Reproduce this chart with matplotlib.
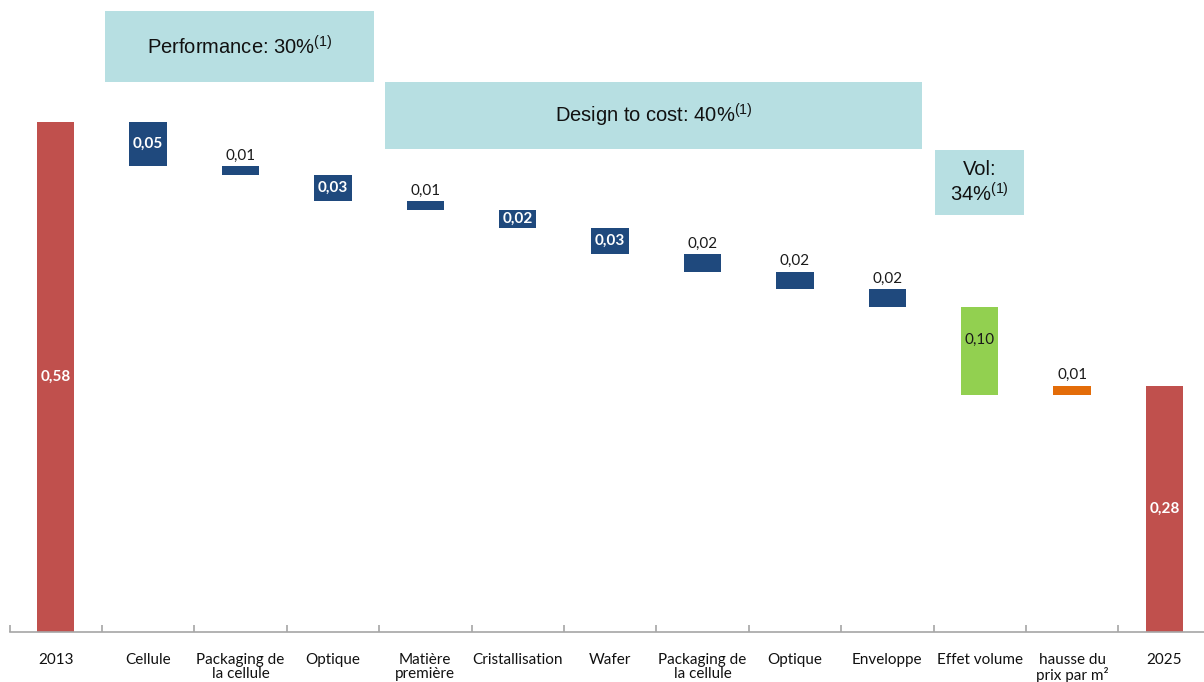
import matplotlib
matplotlib.use("Agg")
import matplotlib.pyplot as plt
from matplotlib.patches import Rectangle

categories = ["2013", "Cellule", "Packaging de\nla cellule", "Optique", "Matière\npremière",
              "Cristallisation", "Wafer", "Packaging de\nla cellule", "Optique", "Enveloppe",
              "Effet volume", "hausse du\nprix par m²", "2025"]
start_value = 0.58
end_value = 0.28
# signed changes between the two totals (negative = cost reduction)
changes = [-0.05, -0.01, -0.03, -0.01, -0.02, -0.03, -0.02, -0.02, -0.02, -0.10, 0.01]
kinds = ["total"] + ["cut"] * 9 + ["volume", "rise"] + ["total"]
label_inside = [True, True, False, True, False, True, True, False, False, False, True, False, True]

groups = ["Performance: 30%$^{\\mathrm{(1)}}$", "Design to cost: 40%$^{\\mathrm{(1)}}$",
          "Vol:\n34%$^{\\mathrm{(1)}}$"]

colors = {"total": "#C0504D", "cut": "#1F497D", "volume": "#92D050", "rise": "#E36C09"}
teal = "#B7DFE2"

plt.rcParams["mathtext.fontset"] = "custom"
plt.rcParams["mathtext.rm"] = "Liberation Sans"

W, H = 1204, 682
fig = plt.figure(figsize=(W / 100, H / 100), dpi=100)
step = 92.4
ax_left = 9.5
ymax = 0.70
px_per_unit = 879
base_px = 632
ax = fig.add_axes([ax_left / W, (H - base_px) / H, 13 * step / W, ymax * px_per_unit / H])

bottoms, heights = [], []
level = start_value
bottoms.append(0); heights.append(start_value)
for c in changes:
    new = level + c
    bottoms.append(min(level, new)); heights.append(abs(c))
    level = new
bottoms.append(0); heights.append(end_value)
values = [start_value] + [abs(c) for c in changes] + [end_value]

x = list(range(len(categories)))
ax.bar(x, heights, bottom=bottoms, width=0.405,
       color=[colors[k] for k in kinds], linewidth=0)

for i, (b, h, v) in enumerate(zip(bottoms, heights, values)):
    txt = f"{v:.2f}".replace(".", ",")
    if label_inside[i]:
        if kinds[i] == "volume":
            ax.text(i, b + h * 0.62, txt, ha="center", va="center", fontsize=11,
                    family="Lato", color="#1a1a1a")
        else:
            ax.text(i, b + h / 2, txt, ha="center", va="center", fontsize=11,
                    family="Lato", weight="bold", color="white")
    else:
        ax.text(i, b + h + 0.004, txt, ha="center", va="bottom", fontsize=11,
                family="Lato", color="#1a1a1a")

ax.set_xlim(-0.5, len(categories) - 0.5)
ax.set_ylim(0, ymax)
for s in ["top", "right", "left"]:
    ax.spines[s].set_visible(False)
ax.spines["bottom"].set_color("#A6A6A6")
ax.spines["bottom"].set_linewidth(1.2)
ax.set_yticks([])
ax.set_xticks([i - 0.5 for i in range(len(categories) + 1)], minor=False)
ax.set_xticklabels([])
ax.tick_params(axis="x", which="major", length=5, color="#A6A6A6", width=1.2, direction="in")
ax.set_xticks(x, minor=True)
ax.set_xticklabels(categories, minor=True, fontsize=11, family="Lato", color="#111111",
                   linespacing=1.0, va="top")
ax.tick_params(axis="x", which="minor", length=0, pad=15)

# teal group banners in pixel coordinates
boxes = [(105, 11, 374, 82), (385, 82, 922, 149), (935, 150, 1024, 215)]
for (x0, y0, x1, y1), label in zip(boxes, groups):
    fig.patches.append(Rectangle((x0 / W, 1 - y1 / H), (x1 - x0) / W, (y1 - y0) / H,
                                 transform=fig.transFigure, facecolor=teal, edgecolor="none",
                                 zorder=0))
    fig.text((x0 + x1) / 2 / W, 1 - (y0 + y1) / 2 / H, label, ha="center", va="center",
             fontsize=14.5, family="Liberation Sans", color="#111111", linespacing=1.15)

fig.savefig("out.png", dpi=100)
